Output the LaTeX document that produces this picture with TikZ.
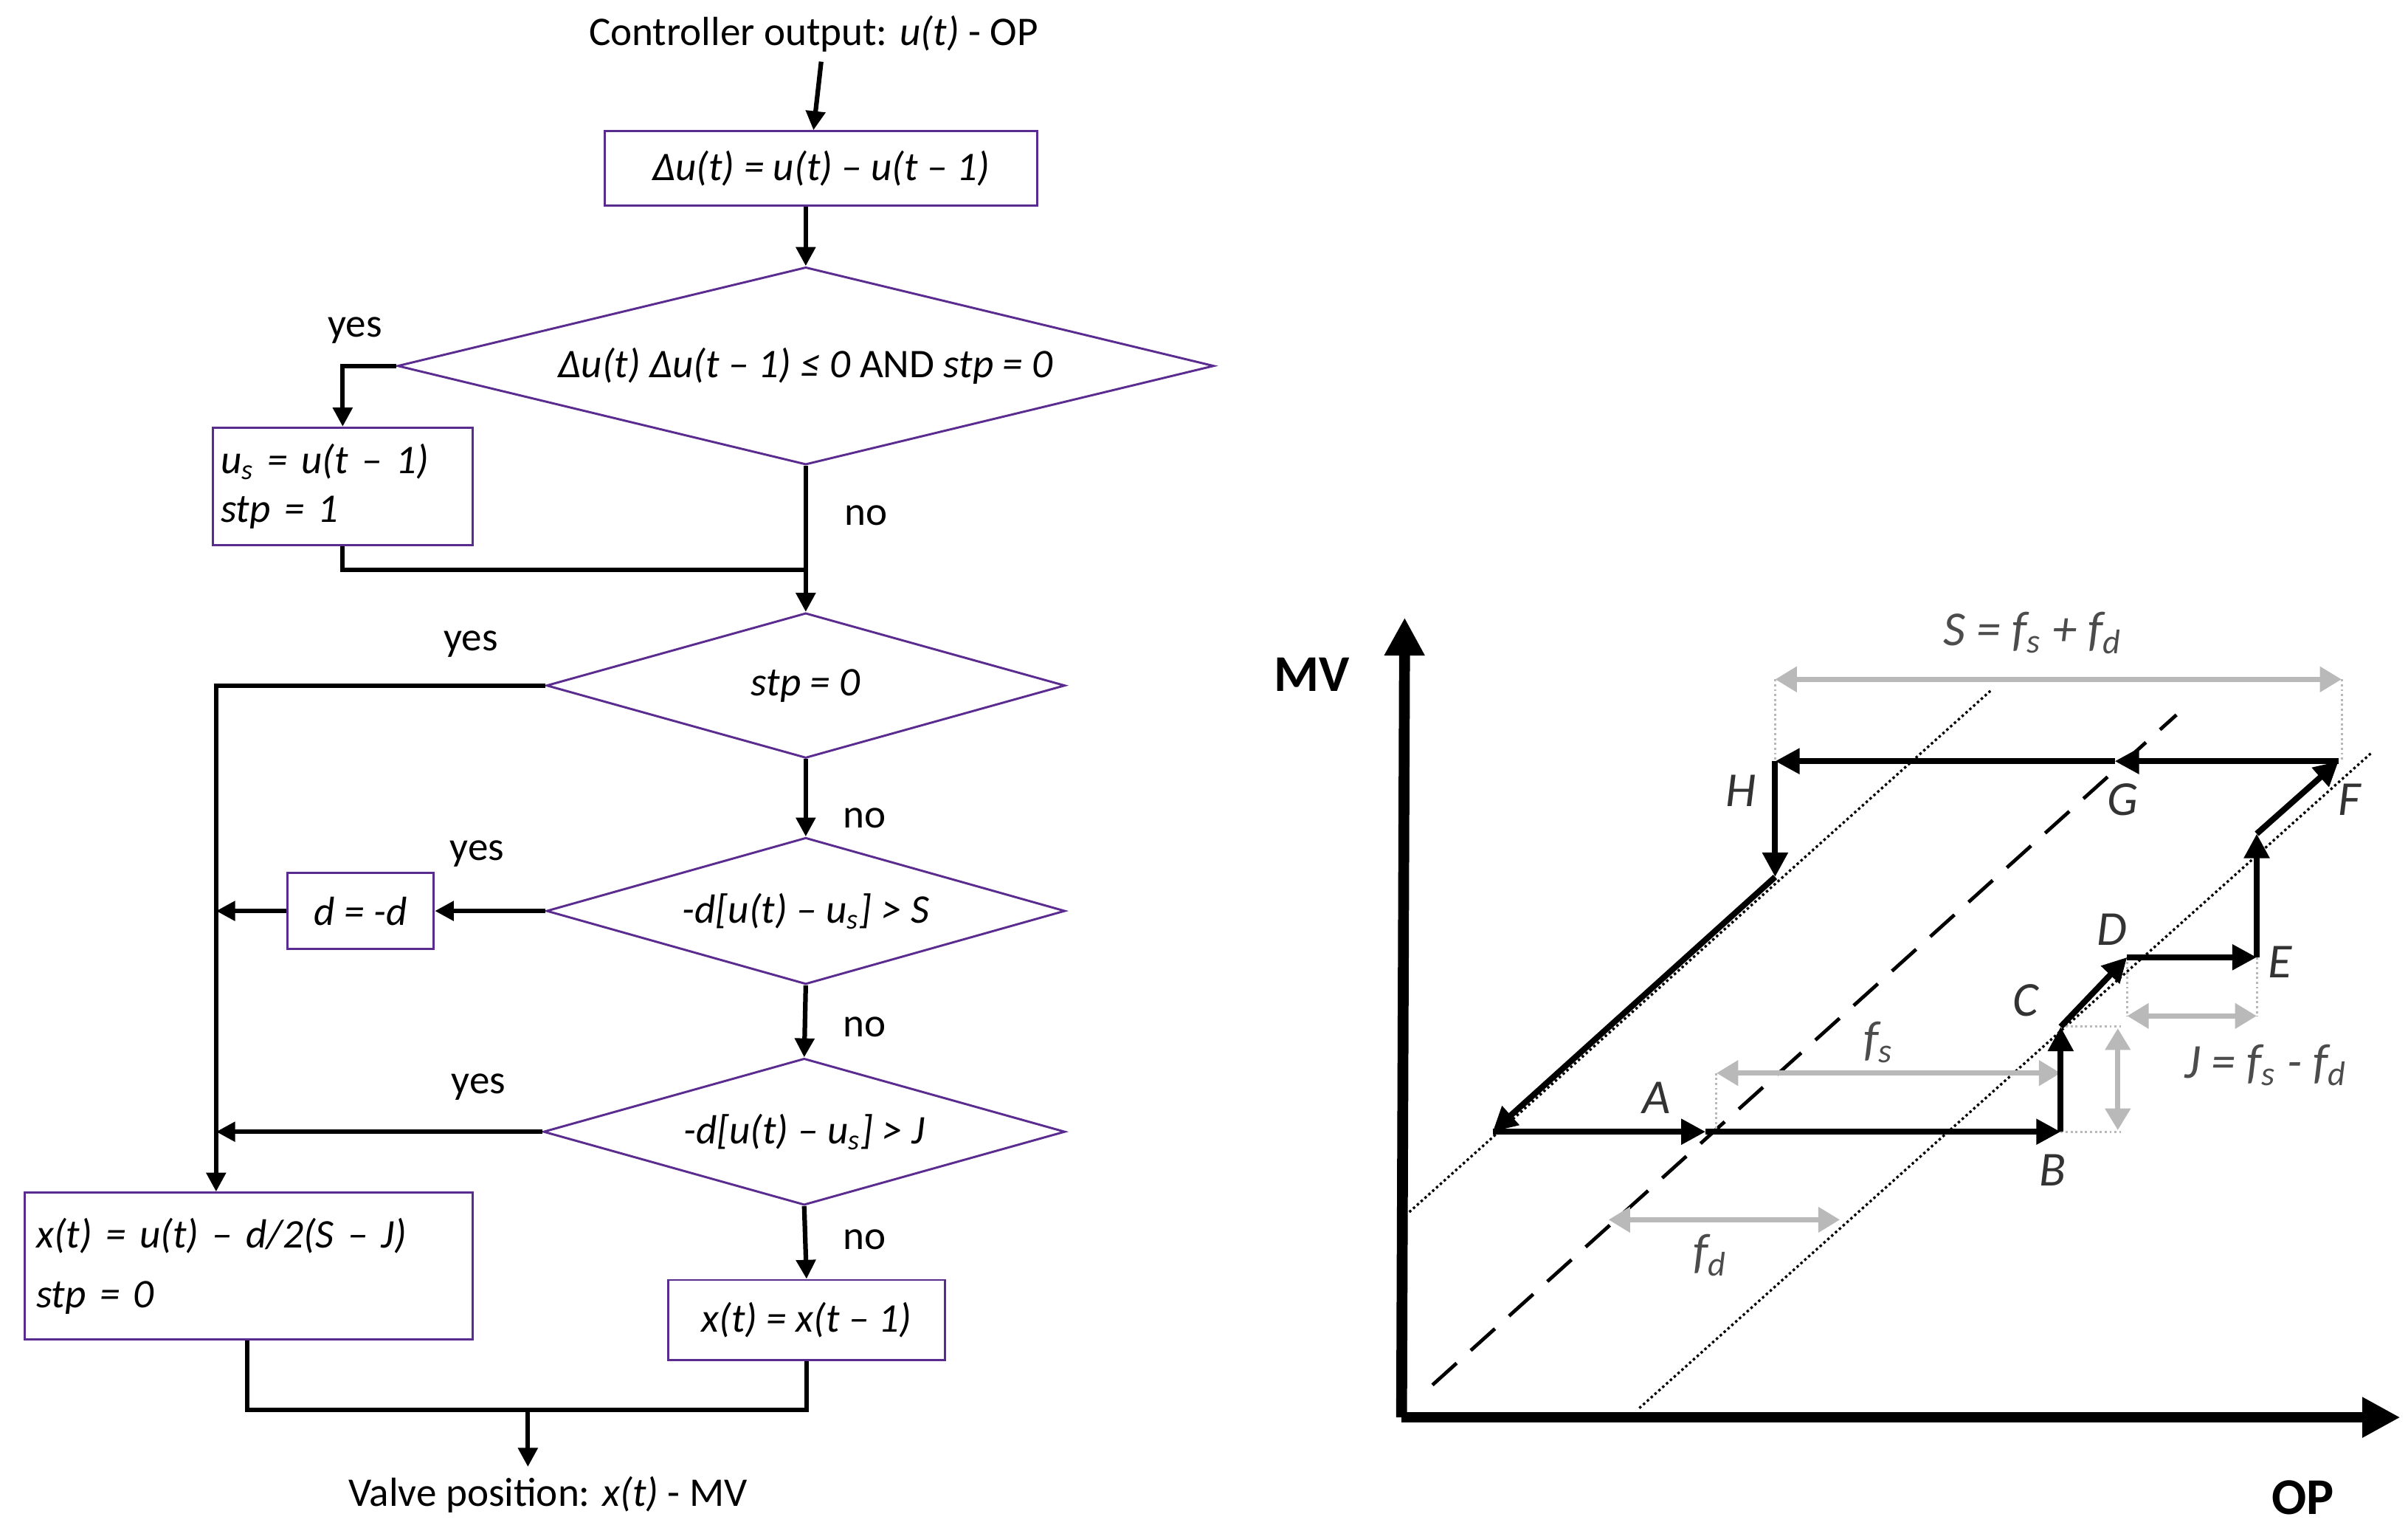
\documentclass[tikz,border=0pt]{standalone}
\usepackage{fontspec}
\setmainfont{Carlito}
\usetikzlibrary{shapes.geometric,arrows.meta}
\definecolor{boxc}{HTML}{5B2C8F}
\begin{document}
\begin{tikzpicture}[x=0.02cm,y=-0.02cm,
  txt/.style={font=\fontsize{15}{18}\selectfont},
  box/.style={draw=boxc,line width=0.8pt,inner sep=0,txt},
  dia/.style={draw=boxc,line width=0.8pt,diamond,inner sep=0,txt},
  fl/.style={line width=1.7pt,-{Triangle[length=7pt,width=7pt]}},
  fln/.style={line width=1.7pt},
  lab/.style={txt,font=\fontsize{15}{18}\selectfont},
  ax/.style={line width=4pt,-{Triangle[length=14pt,width=14pt]}},
  pa/.style={line width=2.2pt,-{Triangle[length=9pt,width=9pt]}},
  ga/.style={line width=2pt,gray!55,{Triangle[length=8pt,width=9pt]}-{Triangle[length=8pt,width=9pt]}},
  gd/.style={line width=0.8pt,gray!55,densely dotted},
  pl/.style={font=\fontsize{18}{20}\selectfont\itshape,text=black!80},
  gl/.style={font=\fontsize{18}{20}\selectfont\itshape,text=black!70}]
\useasboundingbox (0,0) rectangle (1560,989.6);
% ---------- flowchart ----------
\node[txt] (top) at (527,22) {Controller output: \textit{u(t)} - OP};
\node[box,minimum width=280*0.02cm,minimum height=48*0.02cm] (b1) at (532,109) {\textit{Δu(t) = u(t) – u(t – 1)}};
\node[dia,minimum width=529*0.02cm,minimum height=128*0.02cm,shape aspect=4.13] (d1) at (522,237) {\textit{Δu(t) Δu(t – 1) ≤ 0} AND \textit{stp = 0}};
\node[box,minimum width=168*0.02cm,minimum height=76*0.02cm,align=left,text width=158*0.02cm] (b2) at (222,315) {\textit{u\textsubscript{s} = u(t – 1)}\\\textit{stp = 1}};
\node[dia,minimum width=336*0.02cm,minimum height=94*0.02cm,shape aspect=3.57] (d2) at (522,444) {\textit{stp = 0}};
\node[dia,minimum width=336*0.02cm,minimum height=95*0.02cm,shape aspect=3.54] (d3) at (522,590) {\textit{-d[u(t) – u\textsubscript{s}] > S}};
\node[box,minimum width=95*0.02cm,minimum height=49*0.02cm] (b3) at (233.5,590) {\textit{d = -d}};
\node[dia,minimum width=338*0.02cm,minimum height=95*0.02cm,shape aspect=3.56] (d4) at (521,733) {\textit{-d[u(t) – u\textsubscript{s}] > J}};
\node[box,minimum width=290*0.02cm,minimum height=95*0.02cm,align=left,text width=275*0.02cm] (b4) at (161,820) {\textit{x(t) = u(t) – d/2(S – J)}\\[4pt]\textit{stp = 0}};
\node[box,minimum width=179*0.02cm,minimum height=52*0.02cm] (b5) at (522.5,855) {\textit{x(t) = x(t – 1)}};
\node[txt] (bot) at (355,968) {Valve position: \textit{x(t)} - MV};
\coordinate (m1) at (522,369);
\coordinate (m2) at (342,913);
\draw[fl] (top.south -| b1.north) ++(0,0) -- (b1.north -| top.south);
\draw[fl] (b1.south -| d1.north) -- (d1.north);
\draw[fl] (d1.west) -| (b2.north);
\draw[fln] (d1.south) -- (m1);
\draw[fln] (b2.south) |- (m1);
\draw[fl] (m1) -- (d2.north);
\draw[fl] (d2.west) -| (b4.north -| 140,0);
\draw[fl] (d2.south) -- (d3.north);
\draw[fl] (d3.west) -- (b3.east);
\draw[fl] (b3.west) -- (140,590);
\draw[fl] (d3.south) -- (d4.north);
\draw[fl] (d4.west) -- (140,733);
\draw[fl] (d4.south) -- (b5.north);
\draw[fln] (b4.south -| 160,0) |- (b5.south |- m2) -- (b5.south);
\draw[fl] (m2) -- (bot.north -| m2);
\node[txt] at (230,214) {yes};
\node[txt] at (561,334) {no};
\node[txt] at (305,417) {yes};
\node[txt] at (560,530) {no};
\node[txt] at (309,553) {yes};
\node[txt] at (560,665) {no};
\node[txt] at (310,704) {yes};
\node[txt] at (560,803) {no};
% ---------- plot ----------
\coordinate (O) at (910,918);
\coordinate (Ytop) at (910,400);
\coordinate (Xr) at (1555,918);
\draw[ax] (908,918) -- (Ytop);
\draw[ax] (908,918) -- (Xr);
\node[font=\fontsize{19}{22}\selectfont\bfseries] (mv) at (850,437) {MV};
\node[font=\fontsize{19}{22}\selectfont\bfseries] (op) at (1492,970) {OP};
\draw[line width=0.9pt,densely dotted] (913,785) -- (1290,447);
\draw[line width=0.9pt,densely dotted] (1062,912) -- (1537,487);
\draw[line width=1.3pt,dash pattern=on 12pt off 7pt] (928,897) -- (1410,463);
% gray dims
\draw[gd] (1150,440) -- (1150,493);
\draw[gd] (1517,440) -- (1517,493);
\draw[ga] (1150,440) -- (1517,440);
\draw[gd] (1112,695) -- (1112,733);
\draw[ga] (1112,695) -- (1335,695);
\draw[gd] (1335,665) -- (1374,665);
\draw[gd] (1335,733) -- (1374,733);
\draw[ga] (1372,666) -- (1372,732);
\draw[gd] (1378,620) -- (1378,658);
\draw[gd] (1462,620) -- (1462,658);
\draw[ga] (1378,658) -- (1462,658);
\draw[ga] (1042,790) -- (1192,790);
\node[gl] at (1317,410) {S = f\textsubscript{s} + f\textsubscript{d}};
\node[gl] at (1217,675) {f\textsubscript{s}};
\node[gl] at (1468,690) {J = f\textsubscript{s} - f\textsubscript{d}};
\node[gl] at (1108,813) {f\textsubscript{d}};
% path
\coordinate (P0) at (967,733);
\coordinate (A) at (1105,733);
\coordinate (B) at (1335,733);
\coordinate (C) at (1335,665);
\coordinate (D) at (1378,620);
\coordinate (E) at (1462,620);
\coordinate (E2) at (1462,540);
\coordinate (F) at (1515,493);
\coordinate (G) at (1370,493);
\coordinate (H) at (1150,493);
\coordinate (H2) at (1150,568);
\draw[pa] (P0) -- (A);
\draw[pa] (A) -- (B);
\draw[pa] (B) -- (C);
\draw[pa] (C) -- (D);
\draw[pa] (D) -- (E);
\draw[pa] (E) -- (E2);
\draw[pa] (E2) -- (F);
\draw[pa] (F) -- (G);
\draw[pa] (G) -- (H);
\draw[pa] (H) -- (H2);
\draw[pa] (H2) -- (P0);
\node[pl] at (1073,711) {A};
\node[pl] at (1330,758) {B};
\node[pl] at (1312,648) {C};
\node[pl] at (1368,602) {D};
\node[pl] at (1477,623) {E};
\node[pl] at (1522,518) {F};
\node[pl] at (1375,518) {G};
\node[pl] at (1128,512) {H};
\end{tikzpicture}
\end{document}
